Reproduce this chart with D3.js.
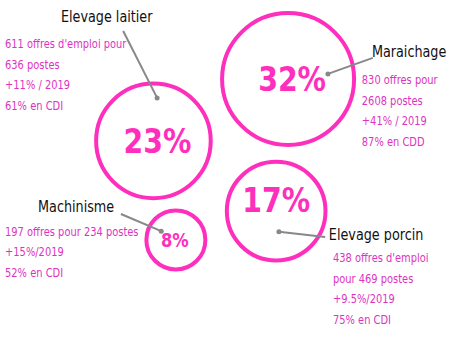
<!DOCTYPE html>
<html>
<head>
<meta charset="utf-8">
<script src="https://cdn.jsdelivr.net/npm/d3@7"></script>
<style>
  body { margin: 0; background: #fff; }
  text { font-family: "DejaVu Sans", sans-serif; }
</style>
</head>
<body>
<div id="chart"></div>
<script>
const width = 458, height = 364;

// data
const sectors = ["Elevage laitier", "Maraichage", "Elevage porcin", "Machinisme"];
const shares = [23, 32, 17, 8];
const details = [
  ["611 offres d'emploi pour", "636 postes", "+11% / 2019", "61% en CDI"],
  ["830 offres pour", "2608 postes", "+41% / 2019", "87% en CDD"],
  ["438 offres d'emploi", "pour 469 postes", "+9.5%/2019", "75% en CDI"],
  ["197 offres pour 234 postes", "+15%/2019", "52% en CDI"]
];

// layout (fractions of the canvas) - bubble centres, label anchors, text blocks
const centers = [[0.335, 0.387], [0.629, 0.217], [0.603, 0.580], [0.384, 0.659]];
const labelPos = [[0.133, 0.060], [0.812, 0.157], [0.718, 0.659], [0.083, 0.582]];
const labelAnchor = [[0.269, 0.085], [0.814, 0.159], [0.710, 0.651], [0.264, 0.588]];
const dotPos = [[0.343, 0.269], [0.716, 0.203], [0.609, 0.637], [0.352, 0.635]];
const blockPos = [[0.011, 0.132], [0.790, 0.231], [0.727, 0.720], [0.011, 0.648]];

const pink = "#ff2fbd";
const textPink = "#dd33c0";
const narrow = 0.86; // squeeze to mimic the narrow typeface

const x = d3.scaleLinear().domain([0, 1]).range([0, width]);
const y = d3.scaleLinear().domain([0, 1]).range([0, height]);
const r = d3.scaleLog().domain([8, 32]).range([31.5, 68]);

const svg = d3.select("#chart").append("svg")
  .attr("width", width)
  .attr("height", height);

const rows = sectors.map((s, i) => ({
  name: s, share: shares[i], lines: details[i],
  c: centers[i], l: labelPos[i], a: labelAnchor[i], d: dotPos[i], b: blockPos[i]
}));

// bubbles
svg.selectAll(".bubble")
  .data(rows)
  .join("circle")
  .attr("class", "bubble")
  .attr("cx", d => x(d.c[0]))
  .attr("cy", d => y(d.c[1]))
  .attr("r", d => r(d.share) - 2)
  .attr("fill", "none")
  .attr("stroke", pink)
  .attr("stroke-width", 4);

// percent labels
svg.selectAll(".pct")
  .data(rows)
  .join("g")
  .attr("class", "pct")
  .attr("transform", d => {
    const px = x(d.c[0]) + (d.share == 17 ? 0 : d.share == 8 ? -1 : 4);
    const py = y(d.c[1]) + (d.share == 17 ? -11 : 0);
    return `translate(${px},${py}) scale(${narrow},1)`;
  })
  .append("text")
  .attr("dy", "0.36em")
  .attr("text-anchor", "middle")
  .attr("font-weight", "bold")
  .attr("font-size", d => d.share == 8 ? 19 : 33)
  .attr("fill", pink)
  .text(d => d.share + "%");

// leader lines
svg.selectAll(".leader")
  .data(rows)
  .join("line")
  .attr("class", "leader")
  .attr("x1", d => x(d.a[0]))
  .attr("y1", d => y(d.a[1]))
  .attr("x2", d => x(d.d[0]))
  .attr("y2", d => y(d.d[1]))
  .attr("stroke", "#888")
  .attr("stroke-width", 2);

svg.selectAll(".dot")
  .data(rows)
  .join("circle")
  .attr("class", "dot")
  .attr("cx", d => x(d.d[0]))
  .attr("cy", d => y(d.d[1]))
  .attr("r", 2.5)
  .attr("fill", "#888");

// sector names
svg.selectAll(".name")
  .data(rows)
  .join("g")
  .attr("class", "name")
  .attr("transform", d => `translate(${x(d.l[0])},${y(d.l[1])}) scale(0.8,1)`)
  .append("text")
  .attr("font-size", 16)
  .attr("fill", "#111")
  .text(d => d.name);

// stats blocks
const blocks = svg.selectAll(".block")
  .data(rows)
  .join("g")
  .attr("class", "block")
  .attr("transform", d => `translate(${x(d.b[0])},${y(d.b[1])}) scale(${narrow},1)`)
  .append("text")
  .attr("font-size", 11.5)
  .attr("fill", textPink);

blocks.selectAll("tspan")
  .data(d => d.lines)
  .join("tspan")
  .attr("x", 0)
  .attr("dy", (t, i) => i ? 20.5 : 0)
  .text(t => t);
</script>
</body>
</html>
